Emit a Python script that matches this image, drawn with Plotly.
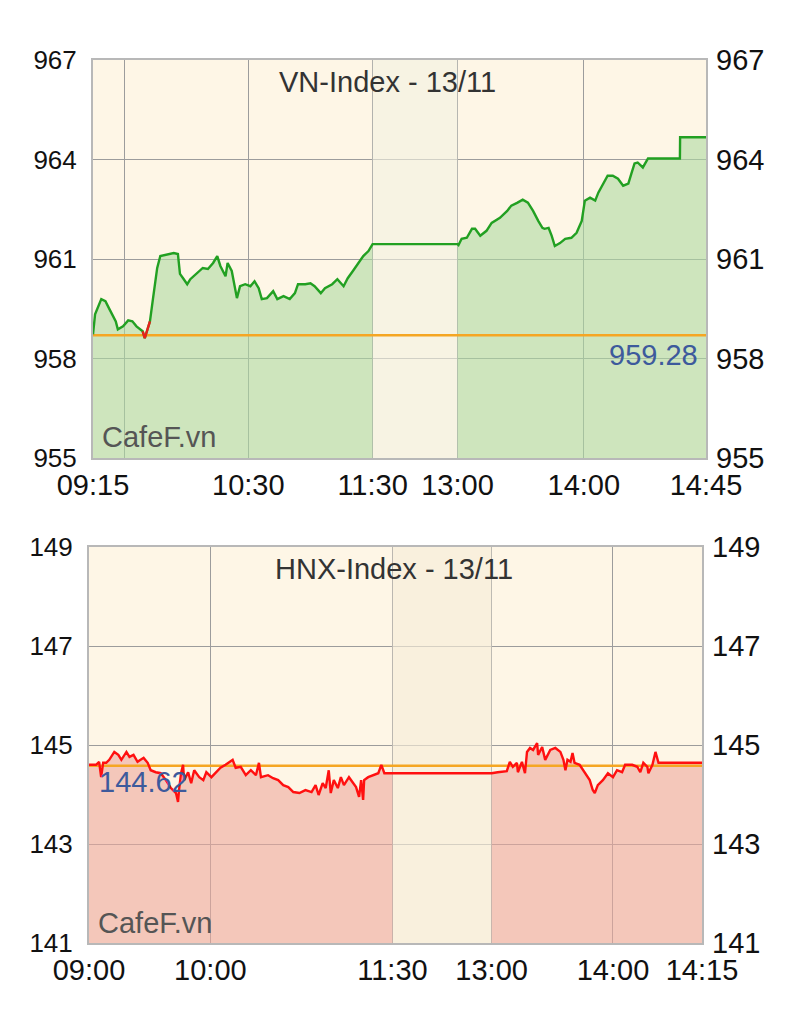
import plotly.graph_objects as go

# ---------------- VN-Index (top) ----------------
vn_title = "VN-Index - 13/11"
vn_ref = 959.28
vn_x_tickvals = [0, 15, 75, 135, 176, 237, 296]
vn_x_ticktext = ["09:15", "", "10:30", "11:30", "13:00", "14:00", "14:45"]
vn_lunch = [135, 176]
vn_y_tickvals = [955.58, 958.58, 961.58, 964.58, 967.58]
vn_y_ticktext = ["955", "958", "961", "964", "967"]

vn_am_x = [0, 1, 4, 6, 8, 11, 12, 14.5, 17, 19, 21, 24, 25, 27.5, 29, 31, 32.5, 36, 39, 41,
           42, 43.5, 45.5, 47, 50, 53, 55.5, 58, 60, 61.5, 64, 65, 67, 69.5, 71, 73.5, 76, 78,
           80, 81.5, 84, 87, 89, 92, 95, 97.5, 99, 102.5, 105, 107, 110, 112, 115.5, 118, 121,
           123, 125.5, 128, 130.5, 133, 135]
vn_am_y = [959.31, 959.91, 960.37, 960.31, 960.06, 959.70, 959.46, 959.55, 959.73, 959.70,
           959.55, 959.40, 959.19, 959.70, 960.40, 961.31, 961.67, 961.73, 961.76, 961.73,
           961.13, 961.00, 960.82, 960.97, 961.13, 961.31, 961.28, 961.46, 961.67, 961.37,
           961.06, 961.46, 961.22, 960.40, 960.76, 960.82, 960.76, 960.91, 960.70, 960.37,
           960.40, 960.61, 960.37, 960.46, 960.37, 960.55, 960.82, 960.82, 960.85, 960.76,
           960.55, 960.70, 960.82, 960.97, 960.76, 961.00, 961.22, 961.43, 961.67, 961.82, 962.03]
vn_pm_x = [176, 176.5, 178, 180.5, 183, 184.5, 187, 190, 192.5, 194, 196.5, 200, 202, 205,
           207.5, 210, 212.5, 215, 217, 218, 220, 221.5, 223, 225.5, 228, 231, 233.5, 236,
           237.5, 240, 242.5, 244, 246, 248.5, 251, 253.5, 256, 258.5, 260, 261.5, 263, 265.5,
           268, 283.4, 283.5, 296]
vn_pm_y = [962.03, 962.00, 962.19, 962.22, 962.49, 962.49, 962.28, 962.43, 962.67, 962.73,
           962.82, 963.03, 963.19, 963.28, 963.37, 963.28, 963.03, 962.73, 962.52, 962.49,
           962.52, 962.28, 961.97, 962.06, 962.19, 962.22, 962.37, 962.73, 963.34, 963.43,
           963.34, 963.58, 963.79, 964.09, 964.09, 964.00, 963.79, 963.85, 964.16, 964.46,
           964.49, 964.34, 964.61, 964.61, 965.25, 965.25]

# ---------------- HNX-Index (bottom) ----------------
hnx_title = "HNX-Index - 13/11"
hnx_ref = 144.62
hnx_x_tickvals = [0, 60, 150, 199, 259, 303]
hnx_x_ticktext = ["09:00", "10:00", "11:30", "13:00", "14:00", "14:15"]
hnx_lunch = [150, 199]
hnx_y_tickvals = [141.04, 143.04, 145.04, 147.04, 149.04]
hnx_y_ticktext = ["141", "143", "145", "147", "149"]

hnx_am_x = [0, 3.5, 5, 6, 7, 8.5, 10, 12.5, 14.5, 16, 18.5, 20, 22, 24, 25.5, 27, 29, 30.5,
            33, 35.5, 38, 40.5, 43, 44, 44.5, 45.5, 46.5, 47, 49, 50.5, 52, 54.5, 56.5, 58,
            60.5, 63, 65, 67.5, 71, 72.5, 75, 77.5, 80, 82.5, 84, 85, 88.5, 91, 93.5, 96, 98.5,
            101, 104, 107, 110, 112, 113.5, 115.5, 117, 118.5, 119.5, 121, 123, 124.5, 126,
            128.5, 130.5, 132, 133.5, 134.5, 135.5, 136, 138, 140.5, 143, 144.5, 146, 150]
hnx_am_y = [144.64, 144.64, 144.70, 144.39, 144.68, 144.68, 144.74, 144.90, 144.84, 144.74,
            144.90, 144.80, 144.84, 144.70, 144.74, 144.78, 144.68, 144.53, 144.49, 144.47,
            144.33, 144.17, 144.07, 143.89, 144.13, 144.47, 144.64, 144.33, 144.49, 144.27,
            144.53, 144.39, 144.33, 144.49, 144.39, 144.49, 144.58, 144.64, 144.74, 144.58,
            144.60, 144.43, 144.53, 144.43, 144.68, 144.39, 144.43, 144.37, 144.33, 144.23,
            144.19, 144.09, 144.07, 144.13, 144.09, 144.23, 144.03, 144.27, 144.17, 144.53,
            144.07, 144.33, 144.17, 144.39, 144.23, 144.39, 144.27, 144.19, 143.99, 144.33,
            143.93, 144.33, 144.39, 144.43, 144.47, 144.64, 144.47, 144.47]
hnx_pm_x = [199, 202, 206.5, 208, 209.5, 211.5, 212, 214, 215.5, 216.5, 218, 219.5, 221.5,
            222, 224, 225.5, 228, 230.5, 233, 234.5, 235.5, 236.5, 238, 239, 240, 242.5, 245,
            247.5, 249, 250, 251.5, 254, 256.5, 259, 261, 263.5, 265, 268.5, 271, 272.5, 274,
            276, 276.5, 278.5, 280, 281.5, 283.5, 294.5, 303]
hnx_pm_y = [144.47, 144.49, 144.51, 144.70, 144.60, 144.68, 144.49, 144.70, 144.47, 144.90,
            144.98, 144.94, 145.08, 144.84, 145.00, 144.74, 144.94, 144.98, 144.90, 144.74,
            144.53, 144.74, 144.70, 144.88, 144.68, 144.64, 144.49, 144.33, 144.13, 144.07,
            144.23, 144.33, 144.47, 144.39, 144.53, 144.49, 144.64, 144.64, 144.60, 144.49,
            144.68, 144.60, 144.47, 144.64, 144.90, 144.68, 144.68, 144.68, 144.68]

# ---------------- styles ----------------
FONT = "Liberation Sans, Arial, sans-serif"
TXT = 29
BG = "#FEF6E6"
GRID = "#9C9C9C"
BORDER = "#B8B8B8"
ORANGE = "#F5A623"
REFTXT = "#3D5A9C"

fig = go.Figure()


def add_panel(xa, ya, yr, am_x, am_y, pm_x, pm_y, ref, lunch, yrange, band_col,
              fill_col, line_col, down_col):
    all_x = list(am_x) + list(pm_x)
    all_y = list(am_y) + list(pm_y)
    # lunch-break band (semi-transparent so gridlines show faintly)
    fig.add_trace(go.Scatter(x=[lunch[0], lunch[1], lunch[1], lunch[0], lunch[0]],
                             y=[yrange[0], yrange[0], yrange[1], yrange[1], yrange[0]],
                             xaxis=xa, yaxis=ya, mode="lines", line=dict(width=0),
                             fill="toself", fillcolor=band_col, hoverinfo="skip",
                             showlegend=False))
    # fills for trading sessions
    for xs, ys in ((am_x, am_y), (pm_x, pm_y)):
        fig.add_trace(go.Scatter(x=xs, y=ys, xaxis=xa, yaxis=ya, mode="lines",
                                 line=dict(width=0), fill="tozeroy", fillcolor=fill_col,
                                 hoverinfo="skip", showlegend=False))
    # reference line
    fig.add_trace(go.Scatter(x=[all_x[0], all_x[-1]], y=[ref, ref], xaxis=xa, yaxis=ya,
                             mode="lines", line=dict(color=ORANGE, width=2.5),
                             hoverinfo="skip", showlegend=False))
    # index line
    fig.add_trace(go.Scatter(x=all_x, y=all_y, xaxis=xa, yaxis=ya, mode="lines",
                             line=dict(color=line_col, width=2.4), showlegend=False))
    if down_col:
        red_y = []
        for i, v in enumerate(all_y):
            near = [all_y[j] for j in range(max(0, i - 1), min(len(all_y), i + 2))]
            red_y.append(v if min(near) < ref else None)
        fig.add_trace(go.Scatter(x=all_x, y=red_y, xaxis=xa, yaxis=ya, mode="lines",
                                 line=dict(color=down_col, width=2.4), showlegend=False,
                                 connectgaps=False, hoverinfo="skip"))
    # invisible trace for right axis
    fig.add_trace(go.Scatter(x=[all_x[0]], y=[ref], xaxis=xa, yaxis=yr, mode="markers",
                             marker=dict(opacity=0), hoverinfo="skip", showlegend=False))


add_panel("x", "y", "y3", vn_am_x, vn_am_y, vn_pm_x, vn_pm_y, vn_ref, vn_lunch,
          [vn_y_tickvals[0], vn_y_tickvals[-1]], "rgba(242,240,224,0.62)",
          "rgba(174,218,162,0.6)", "#22A022", "#E8201C")
add_panel("x2", "y2", "y4", hnx_am_x, hnx_am_y, hnx_pm_x, hnx_pm_y, hnx_ref, hnx_lunch,
          [hnx_y_tickvals[0], hnx_y_tickvals[-1]], "rgba(246,236,216,0.65)",
          "rgba(236,168,156,0.6)", "#FF1010", None)

# page body has an 8px margin: place plot areas accordingly
W, H = 806, 1034
OFF = 8
top_dom_x = [(93 - OFF) / W, (706 - OFF) / W]
top_dom_y = [1 - (458 - OFF) / H, 1 - (60 - OFF) / H]
bot_dom_x = [(89 - OFF) / W, (702 - OFF) / W]
bot_dom_y = [1 - (943 - OFF) / H, 1 - (547 - OFF) / H]


def xaxis(dom, tv, tt, anchor):
    return dict(domain=dom, anchor=anchor, range=[tv[0], tv[-1]], tickmode="array",
                tickvals=tv, ticktext=tt, showgrid=True, gridcolor=GRID, gridwidth=1,
                showline=True, linecolor=BORDER, linewidth=2, mirror=True, zeroline=False,
                ticks="", tickfont=dict(family=FONT, size=TXT, color="#111111"),
                ticklabelstandoff=0, automargin=False, fixedrange=True)


def yaxis(dom, tv, tt, anchor, side, overlay=None):
    d = dict(domain=dom, anchor=anchor, range=[tv[0], tv[-1]], tickmode="array",
             tickvals=tv, ticktext=tt, showgrid=(overlay is None), gridcolor=GRID,
             gridwidth=1, showline=(overlay is None), linecolor=BORDER, linewidth=2,
             mirror=True, zeroline=False, ticks="",
             tickfont=dict(family=FONT, size=(26 if side == "left" else TXT), color="#111111"),
             side=side, ticklabelstandoff=9,
             automargin=False, fixedrange=True)
    if overlay:
        d["overlaying"] = overlay
    return d


annotations = [
    dict(text=vn_title, xref="x domain", yref="y domain", x=0.481, y=0.945, showarrow=False,
         xanchor="center", yanchor="middle", font=dict(family=FONT, size=TXT, color="#333333")),
    dict(text=hnx_title, xref="x2 domain", yref="y2 domain", x=0.4975, y=0.944, showarrow=False,
         xanchor="center", yanchor="middle", font=dict(family=FONT, size=TXT, color="#333333")),
    dict(text="CafeF.vn", xref="x domain", yref="y domain", x=0.011, y=0.053, showarrow=False,
         xanchor="left", yanchor="middle", font=dict(family=FONT, size=TXT, color="#555555")),
    dict(text="CafeF.vn", xref="x2 domain", yref="y2 domain", x=0.011, y=0.05, showarrow=False,
         xanchor="left", yanchor="middle", font=dict(family=FONT, size=TXT, color="#555555")),
    dict(text=f"{vn_ref:.2f}", xref="x domain", yref="y", x=0.99, y=vn_ref, yshift=-20,
         showarrow=False, xanchor="right", yanchor="middle",
         font=dict(family=FONT, size=TXT, color=REFTXT)),
    dict(text=f"{hnx_ref:.2f}", xref="x2 domain", yref="y2", x=0.013, y=hnx_ref, yshift=-16,
         showarrow=False, xanchor="left", yanchor="middle",
         font=dict(family=FONT, size=TXT, color=REFTXT)),
]

fig.update_layout(
    width=W, height=H, margin=dict(l=0, r=0, t=0, b=0),
    paper_bgcolor="white", plot_bgcolor=BG, showlegend=False,
    xaxis=xaxis(top_dom_x, vn_x_tickvals, vn_x_ticktext, "y"),
    yaxis=yaxis(top_dom_y, vn_y_tickvals, vn_y_ticktext, "x", "left"),
    yaxis3=yaxis(top_dom_y, vn_y_tickvals, vn_y_ticktext, "x", "right", overlay="y"),
    xaxis2=xaxis(bot_dom_x, hnx_x_tickvals, hnx_x_ticktext, "y2"),
    yaxis2=yaxis(bot_dom_y, hnx_y_tickvals, hnx_y_ticktext, "x2", "left"),
    yaxis4=yaxis(bot_dom_y, hnx_y_tickvals, hnx_y_ticktext, "x2", "right", overlay="y2"),
    annotations=annotations,
)

fig.write_html("out.html")
